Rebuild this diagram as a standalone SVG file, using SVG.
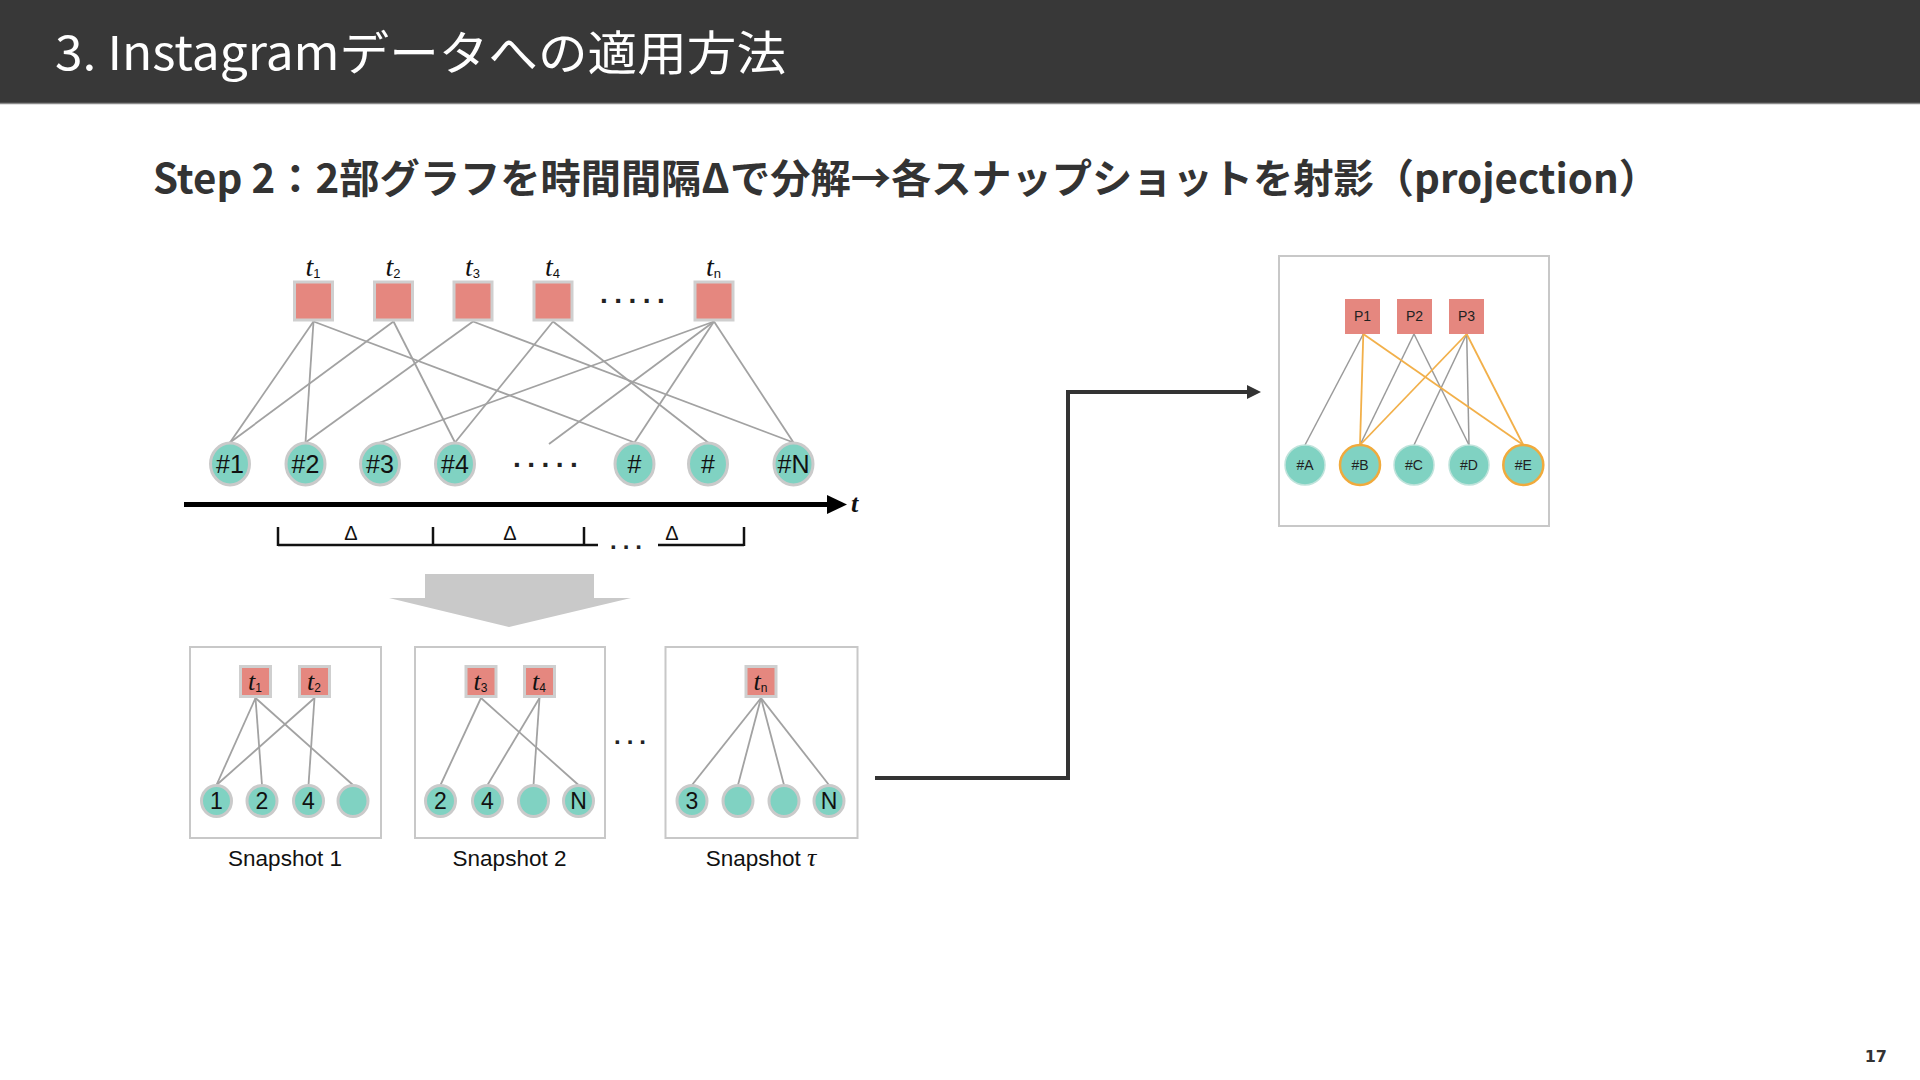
<svg xmlns="http://www.w3.org/2000/svg" width="1920" height="1080" viewBox="0 0 1920 1080">
<defs>
<style>
.sq{fill:#E5877F;stroke:#CFCFCF;stroke-width:3}
.cir{fill:#80D2C2;stroke:#CACACA;stroke-width:3}
.edge{stroke:#A2A2A2;stroke-width:1.8;fill:none}
.lbl{font-family:"Liberation Sans",Arial,sans-serif;fill:#111;text-anchor:middle}
.tl{font-family:"Liberation Serif","Times New Roman",serif;font-style:italic;fill:#111;text-anchor:middle}
.sub{font-family:"Liberation Sans",Arial,sans-serif;font-style:normal}
.box{fill:#fff;stroke:#C8C8C8;stroke-width:2}
.psq{fill:#E5877F}
.pcir{fill:#80D2C2;stroke:#BFE3DB;stroke-width:1.5}
.pcirh{fill:#80D2C2;stroke:#F0AA3C;stroke-width:2.5}
.pedge{stroke:#9A9A9A;stroke-width:1.5;fill:none}
.oedge{stroke:#F2B04A;stroke-width:1.8;fill:none}
.plbl{font-family:"Liberation Sans",Arial,sans-serif;font-size:14px;fill:#222;text-anchor:middle}
.dots{font-family:"Liberation Sans",Arial,sans-serif;font-weight:bold;fill:#222}
</style>
<marker id="arr" viewBox="0 0 10 10" refX="0" refY="5" markerWidth="15" markerHeight="14" markerUnits="userSpaceOnUse" orient="auto">
<path d="M0,0 L10,5 L0,10 z" fill="#333"/>
</marker>
</defs>
<rect x="0" y="0" width="1920" height="1080" fill="#fff"/>
<!-- Header -->
<rect x="0" y="0" width="1920" height="103" fill="#383838"/>
<line x1="0" y1="103.5" x2="1920" y2="103.5" stroke="#8a8a8a" stroke-width="1.5"/>
<text x="55" y="70" font-family="'Noto Sans CJK JP',sans-serif" font-size="47" fill="#fff" textLength="731" lengthAdjust="spacingAndGlyphs">3. Instagramデータへの適用方法</text>
<text x="153" y="193" font-family="'Noto Sans CJK JP',sans-serif" font-weight="bold" font-size="40" fill="#333" textLength="1506" lengthAdjust="spacingAndGlyphs">Step 2：2部グラフを時間間隔Δで分解→各スナップショットを射影（projection）</text>
<text x="1887" y="1062" font-family="'DejaVu Sans',sans-serif" font-weight="bold" font-size="16" fill="#333" text-anchor="end">17</text>

<!-- Container boxes (drawn under connectors) -->
<g id="snapshot-1">
<rect class="box" x="190" y="647" width="191" height="191"/>
<text class="lbl" x="285" y="866" font-size="22.5" fill="#222">Snapshot 1</text>
</g>
<g id="snapshot-2">
<rect class="box" x="415" y="647" width="190" height="191"/>
<text class="lbl" x="509.5" y="866" font-size="22.5" fill="#222">Snapshot 2</text>
</g>
<g id="snapshot-tau">
<rect class="box" x="665.5" y="647" width="192" height="191"/>
<text class="lbl" x="761" y="866" font-size="22.5" fill="#222">Snapshot <tspan font-family="'Liberation Serif',serif" font-style="italic" font-size="26">τ</tspan></text>
</g>
<g id="projection-box"><rect class="box" x="1279" y="256" width="270" height="270"/></g>

<!-- Connectors -->
<g id="connectors">
<!-- top bipartite graph -->
<line class="edge" x1="313.5" y1="321.5" x2="230" y2="442.5"/>
<line class="edge" x1="313.5" y1="321.5" x2="305.5" y2="442.5"/>
<line class="edge" x1="313.5" y1="321.5" x2="634.5" y2="442.5"/>
<line class="edge" x1="393.5" y1="321.5" x2="230" y2="442.5"/>
<line class="edge" x1="393.5" y1="321.5" x2="455" y2="442.5"/>
<line class="edge" x1="473" y1="321.5" x2="305.5" y2="442.5"/>
<line class="edge" x1="473" y1="321.5" x2="793.5" y2="442.5"/>
<line class="edge" x1="553" y1="321.5" x2="455" y2="442.5"/>
<line class="edge" x1="553" y1="321.5" x2="708" y2="442.5"/>
<line class="edge" x1="714" y1="321.5" x2="380" y2="442.5"/>
<line class="edge" x1="714" y1="321.5" x2="549" y2="444"/>
<line class="edge" x1="714" y1="321.5" x2="634.5" y2="442.5"/>
<line class="edge" x1="714" y1="321.5" x2="793.5" y2="442.5"/>
<!-- snapshot 1 -->
<line class="edge" x1="255.5" y1="698" x2="216.5" y2="785"/>
<line class="edge" x1="255.5" y1="698" x2="262" y2="785"/>
<line class="edge" x1="255.5" y1="698" x2="353" y2="785"/>
<line class="edge" x1="314.5" y1="698" x2="216.5" y2="785"/>
<line class="edge" x1="314.5" y1="698" x2="308.5" y2="785"/>
<!-- snapshot 2 -->
<line class="edge" x1="481" y1="698" x2="440.5" y2="785"/>
<line class="edge" x1="481" y1="698" x2="578.5" y2="785"/>
<line class="edge" x1="539.5" y1="698" x2="487.5" y2="785"/>
<line class="edge" x1="539.5" y1="698" x2="533.5" y2="785"/>
<!-- snapshot tau -->
<line class="edge" x1="761" y1="698" x2="692" y2="785"/>
<line class="edge" x1="761" y1="698" x2="738" y2="785"/>
<line class="edge" x1="761" y1="698" x2="784" y2="785"/>
<line class="edge" x1="761" y1="698" x2="829" y2="785"/>
<!-- projection graph -->
<line class="pedge" x1="1363.3" y1="334" x2="1305" y2="445"/>
<line class="pedge" x1="1414" y1="334" x2="1360" y2="445"/>
<line class="pedge" x1="1414" y1="334" x2="1469" y2="445"/>
<line class="pedge" x1="1466.7" y1="334" x2="1414" y2="445"/>
<line class="pedge" x1="1466.7" y1="334" x2="1469" y2="445"/>
<line class="oedge" x1="1363.3" y1="334" x2="1360" y2="445"/>
<line class="oedge" x1="1363.3" y1="334" x2="1523.3" y2="445"/>
<line class="oedge" x1="1466.7" y1="334" x2="1360" y2="445"/>
<line class="oedge" x1="1466.7" y1="334" x2="1523.3" y2="445"/>
<!-- elbow arrow -->
<polyline points="875,778 1068,778 1068,392 1247,392" fill="none" stroke="#333" stroke-width="4" marker-end="url(#arr)"/>
</g>

<!-- Top bipartite graph nodes -->
<g id="node-t1"><rect class="sq" x="294.5" y="282" width="38" height="38"/><text class="tl" x="313" y="276" font-size="28">t<tspan class="sub" font-size="13" dy="2">1</tspan></text></g>
<g id="node-t2"><rect class="sq" x="374.5" y="282" width="38" height="38"/><text class="tl" x="393" y="276" font-size="28">t<tspan class="sub" font-size="13" dy="2">2</tspan></text></g>
<g id="node-t3"><rect class="sq" x="454" y="282" width="38" height="38"/><text class="tl" x="472.5" y="276" font-size="28">t<tspan class="sub" font-size="13" dy="2">3</tspan></text></g>
<g id="node-t4"><rect class="sq" x="534" y="282" width="38" height="38"/><text class="tl" x="552.5" y="276" font-size="28">t<tspan class="sub" font-size="13" dy="2">4</tspan></text></g>
<g id="node-tn"><rect class="sq" x="695" y="282" width="38" height="38"/><text class="tl" x="713.5" y="276" font-size="28">t<tspan class="sub" font-size="13" dy="2">n</tspan></text></g>
<text class="dots" x="600" y="303" font-size="28" letter-spacing="6.5">.....</text>

<g id="node-u1"><ellipse class="cir" cx="230" cy="464" rx="19.5" ry="21"/><text class="lbl" x="230" y="473" font-size="25">#1</text></g>
<g id="node-u2"><ellipse class="cir" cx="305.5" cy="464" rx="19.5" ry="21"/><text class="lbl" x="305.5" y="473" font-size="25">#2</text></g>
<g id="node-u3"><ellipse class="cir" cx="380" cy="464" rx="19.5" ry="21"/><text class="lbl" x="380" y="473" font-size="25">#3</text></g>
<g id="node-u4"><ellipse class="cir" cx="455" cy="464" rx="19.5" ry="21"/><text class="lbl" x="455" y="473" font-size="25">#4</text></g>
<text class="dots" x="513" y="467" font-size="28" letter-spacing="6.5">.....</text>
<g id="node-u5"><ellipse class="cir" cx="634.5" cy="464" rx="19.5" ry="21"/><text class="lbl" x="634.5" y="473" font-size="25">#</text></g>
<g id="node-u6"><ellipse class="cir" cx="708" cy="464" rx="19.5" ry="21"/><text class="lbl" x="708" y="473" font-size="25">#</text></g>
<g id="node-uN"><ellipse class="cir" cx="793.5" cy="464" rx="19.5" ry="21"/><text class="lbl" x="793.5" y="473" font-size="25">#N</text></g>

<!-- time axis -->
<g id="time-axis">
<line x1="184" y1="504.5" x2="830" y2="504.5" stroke="#000" stroke-width="5"/>
<polygon points="827,495 847,504.5 827,514" fill="#000"/>
<text x="851" y="512" font-family="'Liberation Serif',serif" font-style="italic" font-weight="bold" font-size="26" fill="#111">t</text>
</g>

<!-- delta bracket -->
<g id="delta-bracket" stroke="#111" stroke-width="2.5">
<line x1="278" y1="545" x2="598" y2="545"/>
<line x1="658" y1="545" x2="744" y2="545"/>
<line x1="278" y1="527" x2="278" y2="546"/>
<line x1="433" y1="527" x2="433" y2="546"/>
<line x1="584" y1="527" x2="584" y2="546"/>
<line x1="744" y1="527" x2="744" y2="546"/>
</g>
<text class="dots" x="610" y="549" font-size="24" letter-spacing="6">...</text>
<text class="lbl" x="351" y="540" font-size="20" fill="#333">Δ</text>
<text class="lbl" x="510" y="540" font-size="20" fill="#333">Δ</text>
<text class="lbl" x="672" y="540" font-size="20" fill="#333">Δ</text>

<!-- big down arrow -->
<polygon id="down-arrow" points="425,574 594,574 594,598 631,598 509,627 389,598 425,598" fill="#C9C9C9"/>

<!-- Snapshot nodes -->
<g id="s1-t1"><rect class="sq" x="240.5" y="666.5" width="30" height="30"/><text class="tl" x="255" y="690" font-size="26">t<tspan class="sub" font-size="12" dy="2">1</tspan></text></g>
<g id="s1-t2"><rect class="sq" x="299.5" y="666.5" width="30" height="30"/><text class="tl" x="314" y="690" font-size="26">t<tspan class="sub" font-size="12" dy="2">2</tspan></text></g>
<g id="s1-c1"><ellipse class="cir" cx="216.5" cy="801" rx="15" ry="15.5"/><text class="lbl" x="216.5" y="809" font-size="23">1</text></g>
<g id="s1-c2"><ellipse class="cir" cx="262" cy="801" rx="15" ry="15.5"/><text class="lbl" x="262" y="809" font-size="23">2</text></g>
<g id="s1-c3"><ellipse class="cir" cx="308.5" cy="801" rx="15" ry="15.5"/><text class="lbl" x="308.5" y="809" font-size="23">4</text></g>
<g id="s1-c4"><ellipse class="cir" cx="353" cy="801" rx="15" ry="15.5"/></g>

<g id="s2-t3"><rect class="sq" x="466" y="666.5" width="30" height="30"/><text class="tl" x="480.5" y="690" font-size="26">t<tspan class="sub" font-size="12" dy="2">3</tspan></text></g>
<g id="s2-t4"><rect class="sq" x="524.5" y="666.5" width="30" height="30"/><text class="tl" x="539" y="690" font-size="26">t<tspan class="sub" font-size="12" dy="2">4</tspan></text></g>
<g id="s2-c1"><ellipse class="cir" cx="440.5" cy="801" rx="15" ry="15.5"/><text class="lbl" x="440.5" y="809" font-size="23">2</text></g>
<g id="s2-c2"><ellipse class="cir" cx="487.5" cy="801" rx="15" ry="15.5"/><text class="lbl" x="487.5" y="809" font-size="23">4</text></g>
<g id="s2-c3"><ellipse class="cir" cx="533.5" cy="801" rx="15" ry="15.5"/></g>
<g id="s2-c4"><ellipse class="cir" cx="578.5" cy="801" rx="15" ry="15.5"/><text class="lbl" x="578.5" y="809" font-size="23">N</text></g>

<text class="dots" x="614" y="744" font-size="24" letter-spacing="6">...</text>

<g id="s3-tn"><rect class="sq" x="746" y="666.5" width="30" height="30"/><text class="tl" x="760.5" y="690" font-size="26">t<tspan class="sub" font-size="12" dy="2">n</tspan></text></g>
<g id="s3-c1"><ellipse class="cir" cx="692" cy="801" rx="15" ry="15.5"/><text class="lbl" x="692" y="809" font-size="23">3</text></g>
<g id="s3-c2"><ellipse class="cir" cx="738" cy="801" rx="15" ry="15.5"/></g>
<g id="s3-c3"><ellipse class="cir" cx="784" cy="801" rx="15" ry="15.5"/></g>
<g id="s3-c4"><ellipse class="cir" cx="829" cy="801" rx="15" ry="15.5"/><text class="lbl" x="829" y="809" font-size="23">N</text></g>

<!-- Projection graph nodes -->
<g id="p1"><rect class="psq" x="1345" y="299" width="35" height="35"/><text class="plbl" x="1362.5" y="321">P1</text></g>
<g id="p2"><rect class="psq" x="1397" y="299" width="35" height="35"/><text class="plbl" x="1414.5" y="321">P2</text></g>
<g id="p3"><rect class="psq" x="1449" y="299" width="35" height="35"/><text class="plbl" x="1466.5" y="321">P3</text></g>
<g id="hA"><circle class="pcir" cx="1305" cy="465" r="20"/><text class="plbl" x="1305" y="470">#A</text></g>
<g id="hB"><circle class="pcirh" cx="1360" cy="465" r="20"/><text class="plbl" x="1360" y="470">#B</text></g>
<g id="hC"><circle class="pcir" cx="1414" cy="465" r="20"/><text class="plbl" x="1414" y="470">#C</text></g>
<g id="hD"><circle class="pcir" cx="1469" cy="465" r="20"/><text class="plbl" x="1469" y="470">#D</text></g>
<g id="hE"><circle class="pcirh" cx="1523.3" cy="465" r="20"/><text class="plbl" x="1523.3" y="470">#E</text></g>
</svg>
